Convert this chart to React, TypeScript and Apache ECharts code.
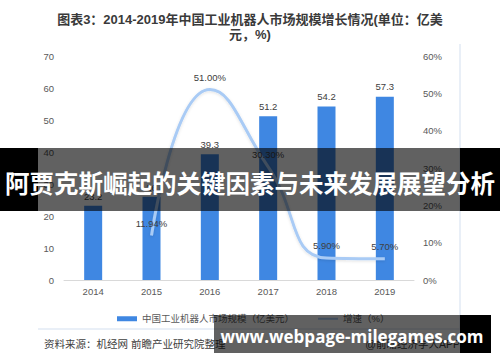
import React, { useEffect, useRef } from "react";
import * as echarts from "echarts";

const years = ["2014", "2015", "2016", "2017", "2018", "2019"];
const marketSize = [23.2, 26.0, 39.3, 51.2, 54.2, 57.3];
const growthRate: (number | null)[] = [null, 11.94, 51.0, 30.3, 5.9, 5.7];
const titleText = "图表3：2014-2019年中国工业机器人市场规模增长情况(单位：亿美\n元，%)";
const barName = "中国工业机器人市场规模（亿美元）";
const lineName = "增速（%）";
const sourceText = "资料来源：机经网 前瞻产业研究院整理";
const creditText = "@前瞻经济学人APP";
const bannerText = "阿贾克斯崛起的关键因素与未来发展展望分析";
const siteText = "www.webpage-milegames.com";

const FONT = "Arial, 'Liberation Sans', 'Noto Sans CJK SC', sans-serif";

export default function App() {
  const ref = useRef<HTMLDivElement>(null);
  useEffect(() => {
    if (!ref.current) return;
    const chart = echarts.init(ref.current, null, { renderer: "svg" });
    chart.setOption({
      animation: false,
      backgroundColor: "#ffffff",
      textStyle: { fontFamily: FONT },
      title: {
        text: titleText,
        left: "center",
        top: 7,
        textStyle: { fontSize: 13, fontWeight: "bold", color: "#3a3a3a", lineHeight: 15, fontFamily: FONT },
      },
      grid: { left: 64, right: 86, top: 56, bottom: 82 },
      legend: {
        left: 112,
        top: 309,
        itemWidth: 20,
        itemHeight: 5,
        itemGap: 23,
        textStyle: { fontSize: 9.5, color: "#595959" },
        data: [{ name: barName, icon: "rect" }, { name: lineName }],
      },
      xAxis: {
        type: "category",
        data: years,
        axisLine: { lineStyle: { color: "#d9d9d9", width: 1 } },
        axisTick: { show: false },
        axisLabel: { color: "#595959", fontSize: 9.5, margin: 7 },
      },
      yAxis: [
        {
          type: "value",
          min: 0,
          max: 70,
          interval: 10,
          splitLine: { show: false },
          axisLine: { show: false },
          axisTick: { show: false },
          axisLabel: { color: "#595959", fontSize: 9.5, margin: 10 },
        },
        {
          type: "value",
          min: 0,
          max: 60,
          interval: 10,
          splitLine: { show: false },
          axisLine: { show: false },
          axisTick: { show: false },
          axisLabel: { color: "#595959", fontSize: 9.5, margin: 9, formatter: "{value}%" },
        },
      ],
      series: [
        {
          name: barName,
          type: "bar",
          data: marketSize,
          barWidth: 18,
          itemStyle: { color: "#3f87e2" },
          label: { show: true, position: "top", distance: 5, color: "#404040", fontSize: 9.5 },
          z: 2,
        },
        {
          name: lineName,
          type: "line",
          yAxisIndex: 1,
          data: growthRate,
          smooth: 0.5,
          connectNulls: false,
          symbol: "circle",
          symbolSize: 1,
          showSymbol: true,
          itemStyle: { color: "rgba(169,203,245,0)" },
          lineStyle: { color: "#a9cbf5", width: 3, shadowColor: "rgba(0,0,0,0.12)", shadowBlur: 3, shadowOffsetY: 1 },
          label: {
            show: true,
            position: "top",
            distance: 7,
            color: "#404040",
            fontSize: 9.5,
            formatter: (p: any) => (p.value == null ? "" : Number(p.value).toFixed(2) + "%"),
          },
          z: 3,
        },
      ],
      graphic: [
        { type: "line", z: 50, shape: { x1: 460, y1: 44, x2: 460, y2: 330 }, style: { stroke: "#e2eaf5", lineWidth: 1.5 } },
        { type: "line", z: 50, shape: { x1: 38, y1: 329, x2: 460, y2: 329 }, style: { stroke: "#e2eaf5", lineWidth: 1.5 } },
        {
          type: "text",
          z: 50,
          left: 44,
          top: 339,
          style: { text: sourceText, fontSize: 10.5, fill: "#404040", fontFamily: FONT },
        },
        {
          type: "text",
          z: 50,
          right: 40,
          top: 339,
          style: { text: creditText, fontSize: 10.5, fill: "#404040", fontFamily: FONT },
        },
        // top banner
        { type: "rect", z: 100, shape: { x: 0, y: 148, width: 38, height: 63 }, style: { fill: "#000" } },
        { type: "rect", z: 100, shape: { x: 38, y: 148, width: 422, height: 63 }, style: { fill: "rgba(0,0,0,0.62)" } },
        { type: "rect", z: 100, shape: { x: 460, y: 148, width: 40, height: 63 }, style: { fill: "#000" } },
        {
          type: "text",
          z: 101,
          x: 250,
          y: 182,
          style: {
            text: bannerText,
            fontSize: 24.5,
            fontWeight: "bold",
            fill: "#ffffff",
            align: "center",
            verticalAlign: "middle",
            fontFamily: "'Noto Sans CJK SC', sans-serif",
          },
        },
        // bottom site band
        { type: "rect", z: 100, shape: { x: 214, y: 315, width: 246, height: 38 }, style: { fill: "rgba(0,0,0,0.62)" } },
        { type: "rect", z: 100, shape: { x: 460, y: 315, width: 31, height: 38 }, style: { fill: "#000" } },
        {
          type: "text",
          z: 101,
          x: 352,
          y: 336,
          style: {
            text: siteText,
            fontSize: 17,
            fontWeight: "bold",
            fill: "#ffffff",
            align: "center",
            verticalAlign: "middle",
            fontFamily: "'Open Sans', sans-serif",
          },
        },
      ],
    });
    return () => chart.dispose();
  }, []);
  return (
    <div
      ref={ref}
      style={{ position: "absolute", left: 0, top: 0, width: 500, height: 362, background: "#fff" }}
    />
  );
}
